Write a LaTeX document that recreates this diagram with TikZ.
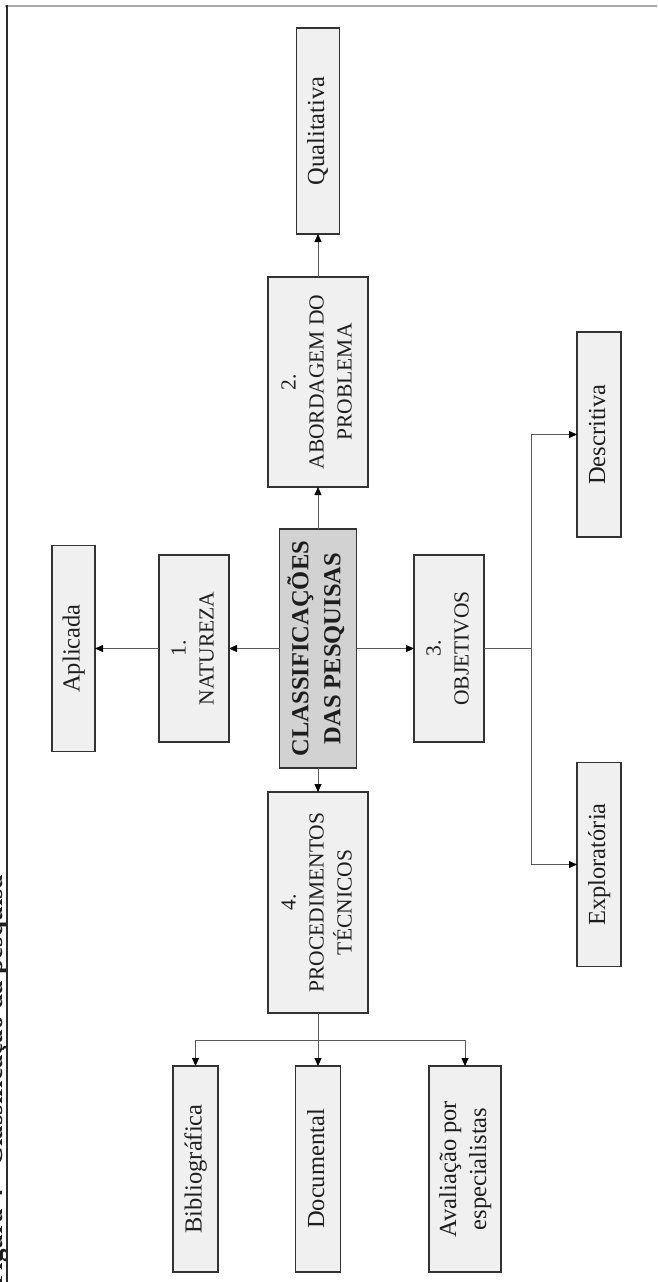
\documentclass[tikz,border=0pt]{standalone}
\usepackage{fontspec}
\setmainfont{Liberation Serif}
\usetikzlibrary{arrows.meta}

\definecolor{boxfill}{HTML}{F0F0F0}
\definecolor{corefill}{HTML}{D2D2D2}
\definecolor{boxline}{HTML}{333333}
\definecolor{linkline}{HTML}{5A5A5A}
\definecolor{inktext}{HTML}{1E1E1E}
\definecolor{frametop}{HTML}{A8A8A8}
\definecolor{frameleft}{HTML}{2A2A2A}

% vertical (bottom-to-top) multi-line label
\newcommand{\vlabel}[1]{\rotatebox{90}{\begin{tabular}{@{}c@{}}#1\end{tabular}}}

\tikzset{
  box/.style={draw=boxline, line width=1.2pt, fill=boxfill, inner sep=0pt,
    outer sep=0pt, text=inktext},
  leaf/.style={box, font=\fontsize{24.5}{30}\selectfont},
  branch/.style={box, font=\fontsize{21.5}{28}\selectfont},
  core/.style={box, fill=corefill, font=\bfseries\fontsize{24.5}{32}\selectfont},
  plainlink/.style={draw=linkline, line width=0.8pt},
  link/.style={plainlink, -{Triangle[length=8pt,width=7pt,color=black]}},
}

\begin{document}
\begin{tikzpicture}[x=1pt, y=-1pt]
\useasboundingbox (0,0) rectangle (657,1282);

% page frame and caption running along the left margin
\draw[frametop, line width=1.5pt] (5,6) -- (657,6);
\node[rotate=90, anchor=base east, inner sep=0pt, text=inktext,
  font=\bfseries\fontsize{27}{32}\selectfont] (caption) at (2,875)
  {Figura 4 - Classificação da pesquisa};
\draw[frameleft, line width=1.6pt] (7,5) -- (7,1282);

% central node
\node[core, minimum width=77, minimum height=239] (core) at (318,648.5)
  {\vlabel{CLASSIFICAÇÕES\\DAS PESQUISAS}};

% first-level branches
\node[branch, minimum width=100, minimum height=210] (abord) at (318,382)
  {\vlabel{2.\\ABORDAGEM DO\\PROBLEMA}};
\node[branch, minimum width=70, minimum height=187] (natur) at (194,648.5)
  {\vlabel{1.\\NATUREZA}};
\node[branch, minimum width=70, minimum height=187] (objet) at (449,648.5)
  {\vlabel{3.\\OBJETIVOS}};
\node[branch, minimum width=100, minimum height=221] (proc) at (318,902.5)
  {\vlabel{4.\\PROCEDIMENTOS\\TÉCNICOS}};

% leaves
\node[leaf, minimum width=43, minimum height=206] (qual) at (318,131)
  {\vlabel{Qualitativa}};
\node[leaf, minimum width=43, minimum height=206] (aplic) at (73.5,648.5)
  {\vlabel{Aplicada}};
\node[leaf, minimum width=44, minimum height=205] (desc) at (599,434.5)
  {\vlabel{Descritiva}};
\node[leaf, minimum width=44, minimum height=204] (explo) at (599,864.5)
  {\vlabel{Exploratória}};
\node[leaf, minimum width=45, minimum height=206] (biblio) at (195.5,1169)
  {\vlabel{Bibliográfica}};
\node[leaf, minimum width=45, minimum height=206] (docum) at (318,1169)
  {\vlabel{Documental}};
\node[leaf, minimum width=72, minimum height=206] (aval) at (465,1169)
  {\vlabel{Avaliação por\\especialistas}};

% connectors
\draw[link] (core.north) -- (abord.south);
\draw[link] (abord.north) -- (qual.south);
\draw[link] (core.west) -- (natur.east);
\draw[link] (natur.west) -- (aplic.east);
\draw[link] (core.east) -- (objet.west);
\draw[link] (core.south) -- (proc.north);

\coordinate (objfork) at (531,648.5);
\draw[plainlink] (objet.east) -- (objfork);
\draw[link] (objfork) |- (desc.west);
\draw[link] (objfork) |- (explo.west);

\coordinate (procfork) at (318,1040);
\draw[plainlink] (proc.south) -- (procfork);
\draw[link] (procfork) -| (biblio.north);
\draw[link] (procfork) -- (docum.north);
\draw[link] (procfork) -| (aval.north);
\end{tikzpicture}
\end{document}
